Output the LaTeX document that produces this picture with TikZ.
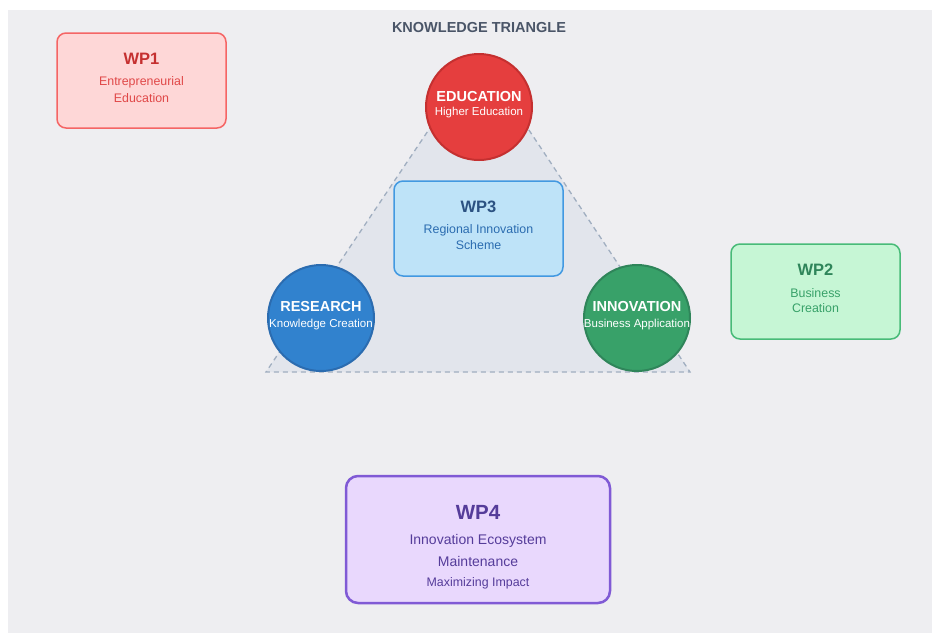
\documentclass[tikz,border=0pt]{standalone}
\usepackage{fontspec}
\setmainfont{Liberation Sans}
\definecolor{panel}{HTML}{EEEEF1}
\definecolor{slate}{HTML}{4A5568}
\definecolor{tri}{HTML}{E2E5EC}
\definecolor{triline}{HTML}{A0AEC0}
\definecolor{redfill}{HTML}{FED7D7}
\definecolor{redline}{HTML}{F56565}
\definecolor{reddark}{HTML}{C53030}
\definecolor{redtext}{HTML}{E04848}
\definecolor{edu}{HTML}{E53E3E}
\definecolor{greenfill}{HTML}{C6F6D5}
\definecolor{greenline}{HTML}{48BB78}
\definecolor{greendark}{HTML}{2F855A}
\definecolor{greentext}{HTML}{38A169}
\definecolor{inno}{HTML}{38A169}
\definecolor{bluefill}{HTML}{BEE3F8}
\definecolor{blueline}{HTML}{4299E1}
\definecolor{bluedark}{HTML}{2C5282}
\definecolor{bluetext}{HTML}{2B6CB0}
\definecolor{res}{HTML}{3182CE}
\definecolor{purplefill}{HTML}{E9D8FD}
\definecolor{purpleline}{HTML}{805AD5}
\definecolor{purpledark}{HTML}{553C9A}
\begin{document}
\begin{tikzpicture}[x=1pt,y=-1pt,
    lbl/.style={inner sep=0pt},
    wpbox/.style={draw, rounded corners=9pt, line width=1.5pt, minimum width=169pt, minimum height=95pt, inner sep=0pt},
    pillar/.style={circle, line width=2pt, minimum size=106pt, inner sep=0pt},
    head/.style={font=\bfseries\fontsize{16.5}{18}\selectfont},
    body/.style={font=\fontsize{12.4}{14}\selectfont},
    ptitle/.style={text=white, font=\bfseries\fontsize{14.5}{16}\selectfont},
    psub/.style={text=white, font=\fontsize{11.5}{13}\selectfont}]
    % background
    \fill[white] (0,0) rectangle (932,633);
    \fill[panel] (8,10) rectangle (932,633);
    \node[lbl, text=slate, font=\bfseries\fontsize{14.5}{16}\selectfont] (title) at (479,28) {KNOWLEDGE TRIANGLE};

    % triangle behind the three pillars
    \draw[triline, fill=tri, dashed, dash pattern=on 5pt off 4pt, line width=1.3pt]
        (479,55) -- (690,372) -- (266,372) -- cycle;

    % work packages
    \node[wpbox, fill=redfill, draw=redline] (wp1) at (141.5,80.5) {};
    \node[lbl, head, text=reddark] at (141.5,59) {WP1};
    \node[lbl, body, text=redtext] at (141.5,82) {Entrepreneurial};
    \node[lbl, body, text=redtext] at (141.5,98) {Education};

    \node[wpbox, fill=greenfill, draw=greenline] (wp2) at (815.5,291.5) {};
    \node[lbl, head, text=greendark] at (815.5,270) {WP2};
    \node[lbl, body, text=greentext] at (815.5,293) {Business};
    \node[lbl, body, text=greentext] at (815.5,308) {Creation};

    \node[wpbox, fill=bluefill, draw=blueline] (wp3) at (478.5,228.5) {};
    \node[lbl, head, text=bluedark] at (478.5,207) {WP3};
    \node[lbl, body, text=bluetext] at (478.5,230) {Regional Innovation};
    \node[lbl, body, text=bluetext] at (478.5,245) {Scheme};

    \node[wpbox, fill=purplefill, draw=purpleline, line width=2.5pt, minimum width=264pt, minimum height=127pt, rounded corners=12pt] (wp4) at (478,539.5) {};
    \node[lbl, text=purpledark, font=\bfseries\fontsize{20.5}{22}\selectfont] at (478,512) {WP4};
    \node[lbl, text=purpledark, font=\fontsize{14}{16}\selectfont] at (478,541) {Innovation Ecosystem};
    \node[lbl, text=purpledark, font=\fontsize{14}{16}\selectfont] at (478,561) {Maintenance};
    \node[lbl, text=purpledark, font=\fontsize{12.4}{14}\selectfont] at (478,583) {Maximizing Impact};

    % the three pillars
    \node[pillar, fill=edu, draw=reddark] (education) at (479,107) {};
    \node[lbl, ptitle] at (479,97) {EDUCATION};
    \node[lbl, psub] at (479,113) {Higher Education};

    \node[pillar, fill=res, draw=bluetext] (research) at (321,318) {};
    \node[lbl, ptitle] at (321,307) {RESEARCH};
    \node[lbl, psub] at (321,325) {Knowledge Creation};

    \node[pillar, fill=inno, draw=greendark] (innovation) at (637,318) {};
    \node[lbl, ptitle] at (637,307) {INNOVATION};
    \node[lbl, psub] at (637,325) {Business Application};
\end{tikzpicture}
\end{document}
